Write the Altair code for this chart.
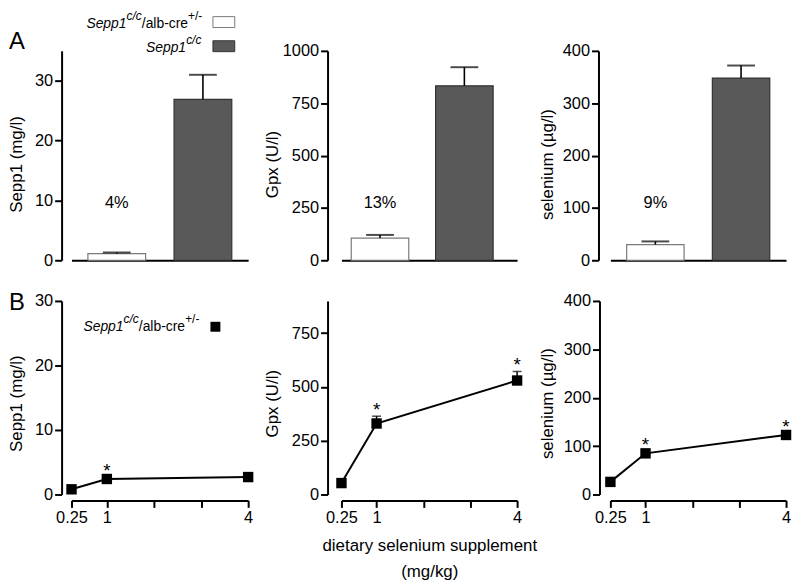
import altair as alt
import pandas as pd

FONT = "Liberation Sans"

# ---------------- data ----------------
groups = ["ko", "wt"]  # Sepp1c/c/alb-cre+/-  ,  Sepp1c/c
a_sepp1 = [1.1, 26.9]
a_sepp1_err = [0.2, 4.1]
a_gpx = [106, 833]
a_gpx_err = [15, 89]
a_se = [30, 348]
a_se_err = [6, 24]
pct_labels = ["4%", "13%", "9%"]

dose = [0.25, 1, 4]
dose_ticks = [0.25, 1, 2, 3, 4]
b_sepp1 = [0.8, 2.4, 2.7]
b_sepp1_err = [0.2, 0.3, 0.3]
b_gpx = [53, 330, 530]
b_gpx_err = [8, 34, 42]
b_se = [26, 85, 123]
b_se_err = [3, 4, 4]
b_sepp1_star = ["", "*", ""]
b_gpx_star = ["", "*", "*"]
b_se_star = ["", "*", "*"]

legend_line1 = ["Sepp1", "c/c", "/alb-cre", "+/-"]
legend_line2 = ["Sepp1", "c/c"]
panel_letters = ["A", "B"]

bar_fill = ["#ffffff", "#595959"]
bar_stroke = ["#7a7a7a", "#333333"]

A_H = 211
B_H = 195


def seg(text, x, y, size, style="normal", align="left"):
    return alt.Chart(pd.DataFrame({"t": [text]})).mark_text(
        font=FONT, fontSize=size, fontStyle=style, align=align,
        baseline="alphabetic", color="black"
    ).encode(x=alt.value(x), y=alt.value(y), text="t:N")


def y_axis(title, values, offset, extent, tpad, ty):
    return alt.Axis(title=title, values=values, offset=offset, minExtent=extent,
                    maxExtent=extent, titlePadding=tpad, titleY=ty, tickSize=7,
                    tickWidth=2, domainWidth=2, labelPadding=2, labelFlush=False,
                    labelOverlap=False, grid=False, format="d")


def panel_a(mean, err, ymax, yticks, ytitle, pct, width, offset, extent, tpad,
            pin=0.33, pout=0.19, palign=0.5, legend=None, extras=()):
    df = pd.DataFrame({"g": groups, "mean": mean,
                       "top": [m + e for m, e in zip(mean, err)]})
    lab = pd.DataFrame({"g": [groups[0]], "t": [pct]})
    xs = alt.Scale(domain=groups, paddingInner=pin, paddingOuter=pout, align=palign)
    xa = alt.Axis(title=None, labels=False, ticks=False, domainWidth=2,
                  domainColor="black")
    x = alt.X("g:N", scale=xs, axis=xa)
    ys = alt.Scale(domain=[0, ymax], nice=False, zero=True)
    ya = y_axis(ytitle, yticks, offset, extent, tpad, 114)
    bars = alt.Chart(df).mark_bar(strokeWidth=1.2).encode(
        x=x, y=alt.Y("mean:Q", scale=ys, axis=ya),
        fill=alt.Fill("g:N", scale=alt.Scale(domain=groups, range=bar_fill),
                      legend=legend),
        stroke=alt.Stroke("g:N", scale=alt.Scale(domain=groups, range=bar_stroke),
                          legend=None),
    )
    rule = alt.Chart(df).mark_rule(color="black", strokeWidth=1.6).encode(
        x=x, y=alt.Y("mean:Q", scale=ys, axis=ya), y2="top:Q")
    cap = alt.Chart(df).mark_tick(color="black", thickness=2, size=28,
                                  orient="horizontal").encode(
        x=x, y=alt.Y("top:Q", scale=ys, axis=ya))
    txt = alt.Chart(lab).mark_text(font=FONT, fontSize=16.5, baseline="middle",
                                   color="black").encode(
        x=x, y=alt.value(153), text="t:N")
    return alt.layer(bars, rule, cap, txt, *extras).properties(width=width, height=A_H)


def panel_b(vals, errs, stars, ymax, yticks, ytitle, width, offset, extent, tpad,
            xtitle=None, legend=None, extras=()):
    df = pd.DataFrame({"dose": dose, "v": vals,
                       "top": [v + e for v, e in zip(vals, errs)],
                       "star": stars, "grp": ["ko"] * len(dose)})
    xs = alt.Scale(domain=[0.25, 4], nice=False, zero=False)
    xa = alt.Axis(title=xtitle, values=dose_ticks,
                  labelExpr="datum.value == 2 || datum.value == 3 ? '' : format(datum.value, '~g')",
                  offset=6, tickSize=7, tickWidth=2, domainWidth=2, labelPadding=2,
                  labelFlush=False, labelOverlap=False, titlePadding=12,
                  titleLineHeight=26, grid=False)
    x = alt.X("dose:Q", scale=xs, axis=xa)
    ys = alt.Scale(domain=[0, ymax], nice=False, zero=True)
    ya = y_axis(ytitle, yticks, offset, extent, tpad, 103)
    y = alt.Y("v:Q", scale=ys, axis=ya)
    line = alt.Chart(df).mark_line(color="black", strokeWidth=2).encode(x=x, y=y)
    rule = alt.Chart(df).mark_rule(color="black", strokeWidth=1.5).encode(
        x=x, y=y, y2="top:Q")
    cap = alt.Chart(df).mark_tick(color="black", thickness=1.5, size=9,
                                  orient="horizontal").encode(
        x=x, y=alt.Y("top:Q", scale=ys, axis=ya))
    if legend is not None:
        pts = alt.Chart(df).mark_point(shape="square", filled=True, size=110,
                                       opacity=1, strokeWidth=0).encode(
            x=x, y=y,
            fill=alt.Fill("grp:N", scale=alt.Scale(domain=["ko"], range=["black"]),
                          legend=legend))
    else:
        pts = alt.Chart(df).mark_point(shape="square", filled=True, size=110,
                                       opacity=1, color="black", strokeWidth=0).encode(
            x=x, y=y)
    st = alt.Chart(df).mark_text(font=FONT, fontSize=19, baseline="alphabetic",
                                 color="black", dy=0).encode(
        x=x, y=alt.Y("top:Q", scale=ys, axis=ya), text="star:N")
    return alt.layer(rule, cap, line, pts, st, *extras).properties(width=width, height=B_H)


legend_a = alt.Legend(orient="none", legendX=147.5, legendY=-35, direction="vertical",
                      title=None, symbolType="M-2,-1H2V1H-2Z", symbolSize=121,
                      symbolStrokeColor="#333333", symbolStrokeWidth=1,
                      labelExpr="''", labelFontSize=10, rowPadding=8.3, padding=0,
                      symbolOpacity=1)
legend_b = alt.Legend(orient="none", legendX=140, legendY=21, direction="vertical",
                      title=None, symbolType="square", symbolSize=100,
                      symbolStrokeWidth=0, labelExpr="''", labelFontSize=10,
                      padding=0, symbolOpacity=1)

extras_a1 = (
    seg(panel_letters[0], -63, -2, 24),
    seg(legend_line1[0], 15, -23, 14, "italic"),
    seg(legend_line1[1], 55.5, -31, 12, "italic"),
    seg(legend_line1[2], 70.8, -23, 14),
    seg(legend_line1[3], 117.5, -31, 12),
    seg(legend_line2[0], 75, 1, 14, "italic"),
    seg(legend_line2[1], 115.5, -7, 12, "italic"),
)
extras_b1 = (
    seg(panel_letters[1], -63, 9, 24),
    seg(legend_line1[0], 12, 30, 14, "italic"),
    seg(legend_line1[1], 52.5, 22, 12, "italic"),
    seg(legend_line1[2], 67.8, 30, 14),
    seg(legend_line1[3], 114.5, 22, 12),
)

A1 = panel_a(a_sepp1, a_sepp1_err, 35, [0, 10, 20, 30], "Sepp1 (mg/l)", pct_labels[0],
             178, 10, 27, 9, legend=legend_a, extras=extras_a1)
A2 = panel_a(a_gpx, a_gpx_err, 1000, [0, 250, 500, 750, 1000], "Gpx (U/l)", pct_labels[1],
             177, 14, 46, 0, pin=0.318, pout=0.2, palign=0.29)
A3 = panel_a(a_se, a_se_err, 400, [0, 100, 200, 300, 400], "selenium (µg/l)", pct_labels[2],
             177, 12, 36, 6)

B1 = panel_b(b_sepp1, b_sepp1_err, b_sepp1_star, 30, [0, 10, 20, 30], "Sepp1 (mg/l)",
             178, 10, 27, 9, legend=legend_b, extras=extras_b1)
B2 = panel_b(b_gpx, b_gpx_err, b_gpx_star, 900, [0, 250, 500, 750], "Gpx (U/l)",
             177, 14, 46, 0, xtitle=["dietary selenium supplement", "(mg/kg)"])
B3 = panel_b(b_se, b_se_err, b_se_star, 400, [0, 100, 200, 300, 400], "selenium (µg/l)",
             177, 11, 36, 7)

chart = alt.concat(
    A1, A2, A3, B1, B2, B3, columns=3,
    spacing={"row": 41, "column": 94}, bounds="flush"
).resolve_scale(
    fill="independent", stroke="independent"
).resolve_legend(
    fill="independent"
).properties(
    padding=0, background="white"
).configure_view(
    stroke=None
).configure_axis(
    labelFont=FONT, titleFont=FONT, labelFontSize=16.5, titleFontSize=17,
    labelColor="black", titleColor="black", titleFontWeight="normal",
    domainColor="black", tickColor="black", grid=False
)

chart.save("out.html", embed_options={"renderer": "svg", "actions": False})
